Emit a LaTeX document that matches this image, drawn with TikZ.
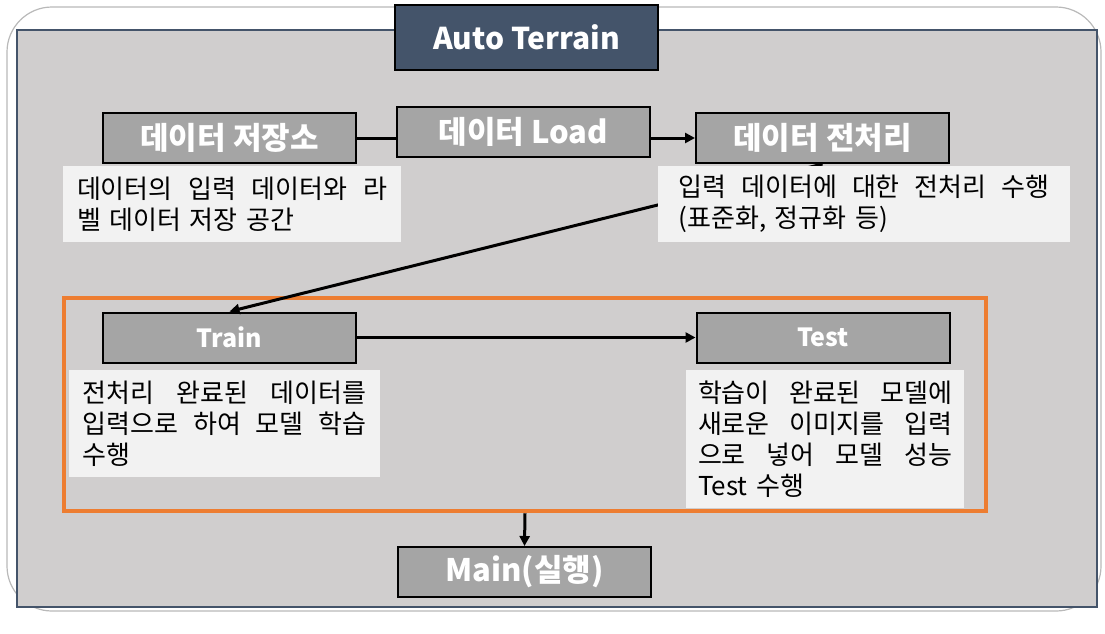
\documentclass[tikz,border=0pt]{standalone}
\usepackage{fontspec}
\setmainfont{Noto Sans CJK KR}
\usetikzlibrary{arrows.meta}
\definecolor{panel}{HTML}{D0CECE}
\definecolor{slate}{HTML}{44546A}
\definecolor{boxgray}{HTML}{A5A5A5}
\definecolor{notegray}{HTML}{F2F2F2}
\definecolor{stageorange}{HTML}{ED7D31}
\newcommand{\jline}[1]{\makebox[\hsize][s]{\spaceskip=0.25em plus 1fil\relax#1}}

\begin{document}
\begin{tikzpicture}[x=1pt,y=-1pt,
    stepbox/.style={draw=black,line width=2pt,fill=boxgray,text=white,
      font=\bfseries\fontsize{31}{31}\selectfont,
      minimum width=253pt,minimum height=50pt,inner sep=0pt},
    latin/.style={font=\bfseries\fontsize{25}{25}\selectfont},
    note/.style={fill=notegray,inner sep=0pt,align=left,
      font=\fontsize{26}{31}\selectfont},
    link/.style={line width=3pt},
    flow/.style={link,-{Triangle[length=10pt,width=10pt]}}]
    \useasboundingbox (0,0) rectangle (1105,633);
    \draw[gray!55,line width=1.2pt,rounded corners=45pt] (7,7) rectangle (1101,611);
    \draw[slate,line width=2pt,fill=panel] (17,30) rectangle (1097,607);
    \node[draw=black,line width=2pt,fill=slate,text=white,
      font=\bfseries\fontsize{30}{30}\selectfont,
      minimum width=263pt,minimum height=65pt,inner sep=0pt] (title) at (526.5,37.5) {Auto Terrain};
    \node[draw=stageorange,line width=4.5pt,minimum width=922pt,minimum height=213pt,inner sep=0pt] (stage) at (525,404.5) {};
    \node[stepbox] (store) at (229.5,138)   {데이터 저장소};
    \node[stepbox] (load)  at (523.5,132)   {데이터 Load};
    \node[stepbox] (prep)  at (822.5,138)   {데이터 전처리};
    \node[stepbox,latin] (train) at (229.5,337.5) {Train};
    \node[stepbox,latin] (test)  at (823,337.5)   {Test};
    \node[stepbox] (main)  at (524.5,572)   {Main(실행)};
    \draw[link] (store.east) -- (store.east -| load.west);
    \draw[flow] (load.east |- prep.west) -- (prep.west);
    \draw[flow] (prep.south) -- (train.north);
    \draw[flow] (train.east) -- (test.west);
    \draw[flow] (stage.south) -- (main.north);
    \node[note,text width=310pt,minimum width=338pt,minimum height=76pt] (storenote) at (232,204)
      {\jline{데이터의 입력 데이터와 라}\\벨 데이터 저장 공간};
    \node[note,text width=371pt,minimum width=412pt,minimum height=76pt] (prepnote) at (864,204)
      {\jline{입력 데이터에 대한 전처리 수행}\\(표준화, 정규화 등)};
    \node[note,text width=284pt,minimum width=311pt,minimum height=107pt] (trainnote) at (224.5,423.5)
      {\jline{전처리 완료된 데이터를}\\\jline{입력으로 하여 모델 학습}\\수행};
    \node[note,text width=254pt,minimum width=278pt,minimum height=138pt] (testnote) at (825,439)
      {\jline{학습이 완료된 모델에}\\\jline{새로운 이미지를 입력}\\\jline{으로 넣어 모델 성능}\\Test 수행};
\end{tikzpicture}
\end{document}
